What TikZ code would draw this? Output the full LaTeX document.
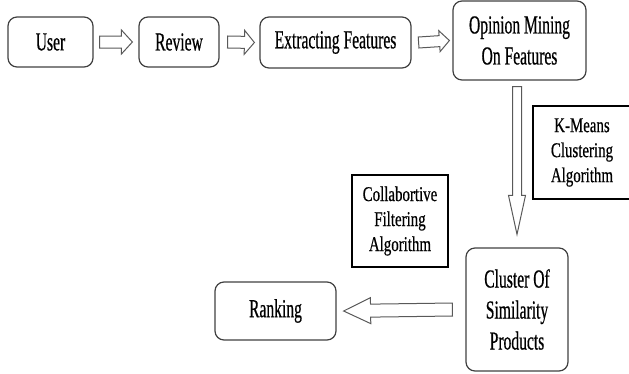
\documentclass[tikz,border=0pt]{standalone}
\usepackage{fontspec}
\newfontfamily\boxfont[FakeStretch=0.6,FakeBold=0.5]{Liberation Serif}
\newfontfamily\notefont[FakeStretch=0.71,FakeBold=0.5]{Liberation Serif}
\usetikzlibrary{calc,positioning}

\tikzset{
  flow/.style={draw=black!75, line width=1.2pt, rounded corners=9pt, align=center,
    inner sep=0pt, font=\boxfont\fontsize{26}{31}\selectfont},
  note/.style={draw=black, line width=1.2pt, align=center,
    inner sep=0pt, font=\notefont\fontsize{21}{25}\selectfont},
  % hollow block arrow: shaft half width, head half width, head length
  fat/.style n args={3}{draw=black!65, line width=1pt, line join=miter, to path={
      ($(\tikztostart)!#1!90:(\tikztotarget)$)
      -- ($(\tikztotarget)!#3!(\tikztostart)!#1!90:(\tikztotarget)$)
      -- ($(\tikztotarget)!#3!(\tikztostart)!#2!90:(\tikztotarget)$)
      -- (\tikztotarget)
      -- ($(\tikztotarget)!#3!(\tikztostart)!#2!-90:(\tikztotarget)$)
      -- ($(\tikztotarget)!#3!(\tikztostart)!#1!-90:(\tikztotarget)$)
      -- ($(\tikztostart)!#1!-90:(\tikztotarget)$) -- cycle}}
}

\begin{document}
\begin{tikzpicture}[x=1pt,y=-1pt]
  \useasboundingbox (0,0) rectangle (629,373);
  % top row
  \node[flow, minimum width=85pt, minimum height=50pt] (user) at (50.5,42) {User};
  \node[flow, minimum width=80pt, minimum height=50pt] (review) at (179,42) {Review};
  \node[flow, minimum width=151pt, minimum height=51pt] (extract) at (335.5,42.5) {Extracting Features};
  \node[flow, minimum width=133pt, minimum height=79pt] (opinion) at (519.5,40.5) {Opinion Mining\\On Features};
  % lower part
  \node[flow, minimum width=102pt, minimum height=123pt] (cluster) at (517,309.5) {Cluster Of\\Similarity\\Products};
  \node[flow, minimum width=121pt, minimum height=58pt] (ranking) at (275.5,311) {Ranking};
  \node[note, minimum width=98pt, minimum height=93pt] (kmeans) at (582,152.5) {K-Means\\Clustering\\Algorithm};
  \node[note, minimum width=96pt, minimum height=92pt] (collab) at (400,221) {Collabortive\\Filtering\\Algorithm};
  % arrows
  \draw[fat={6pt}{12pt}{11pt}] ([xshift=6pt]user.east) to ([xshift=-6pt]review.west);
  \draw[fat={6pt}{12pt}{10pt}] ([xshift=8pt]review.east) to ([xshift=-5pt]extract.west);
  \draw[fat={5.5pt}{10.5pt}{10pt}] ([xshift=7pt]extract.east) to ([xshift=-3pt]opinion.west);
  \draw[fat={4.5pt}{8.5pt}{39pt}] ([yshift=-6pt]opinion.south -| cluster.north) to ([yshift=13pt]cluster.north);
  \draw[fat={6.5pt}{13pt}{27pt}] ([xshift=-13pt]cluster.west) to ([xshift=7pt]ranking.east);
\end{tikzpicture}
\end{document}
